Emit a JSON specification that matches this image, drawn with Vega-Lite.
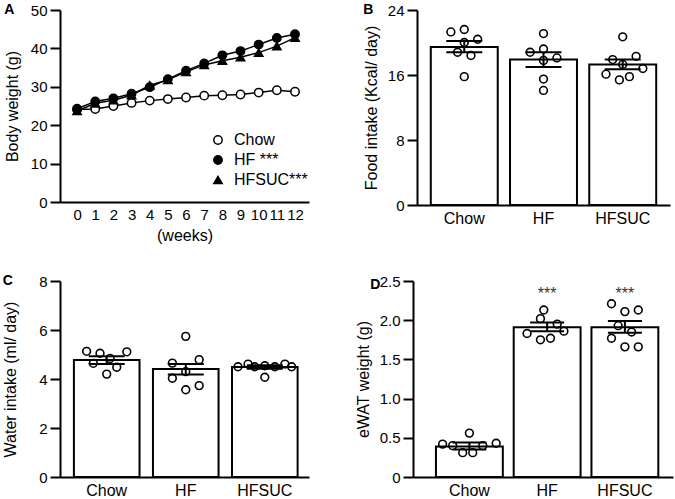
{
  "$schema": "https://vega.github.io/schema/vega-lite/v6.json",
  "padding": {"left": 2, "top": 3, "right": 2, "bottom": 0},
  "background": "white",
  "datasets": {
    "bw": [
      {"week": 0, "group": "Chow", "w": 24.1}, {"week": 1, "group": "Chow", "w": 24.2}, {"week": 2, "group": "Chow", "w": 25.0}, {"week": 3, "group": "Chow", "w": 25.8}, {"week": 4, "group": "Chow", "w": 26.4}, {"week": 5, "group": "Chow", "w": 26.8}, {"week": 6, "group": "Chow", "w": 27.2}, {"week": 7, "group": "Chow", "w": 27.7}, {"week": 8, "group": "Chow", "w": 27.8}, {"week": 9, "group": "Chow", "w": 28.0}, {"week": 10, "group": "Chow", "w": 28.5}, {"week": 11, "group": "Chow", "w": 29.1}, {"week": 12, "group": "Chow", "w": 28.7},
      {"week": 0, "group": "HF", "w": 24.3}, {"week": 1, "group": "HF", "w": 26.2}, {"week": 2, "group": "HF", "w": 27.0}, {"week": 3, "group": "HF", "w": 28.2}, {"week": 4, "group": "HF", "w": 29.9}, {"week": 5, "group": "HF", "w": 32.0}, {"week": 6, "group": "HF", "w": 34.2}, {"week": 7, "group": "HF", "w": 36.1}, {"week": 8, "group": "HF", "w": 38.2}, {"week": 9, "group": "HF", "w": 39.3}, {"week": 10, "group": "HF", "w": 41.0}, {"week": 11, "group": "HF", "w": 42.7}, {"week": 12, "group": "HF", "w": 43.7},
      {"week": 0, "group": "HFSUC", "w": 23.7}, {"week": 1, "group": "HFSUC", "w": 25.7}, {"week": 2, "group": "HFSUC", "w": 26.5}, {"week": 3, "group": "HFSUC", "w": 27.8}, {"week": 4, "group": "HFSUC", "w": 30.4}, {"week": 5, "group": "HFSUC", "w": 31.8}, {"week": 6, "group": "HFSUC", "w": 33.9}, {"week": 7, "group": "HFSUC", "w": 35.7}, {"week": 8, "group": "HFSUC", "w": 36.8}, {"week": 9, "group": "HFSUC", "w": 37.7}, {"week": 10, "group": "HFSUC", "w": 38.9}, {"week": 11, "group": "HFSUC", "w": 40.6}, {"week": 12, "group": "HFSUC", "w": 42.8}
    ],
    "b_sum": [
      {"g": "Chow", "mean": 19.45, "lo": 18.8, "hi": 20.2},
      {"g": "HF", "mean": 17.9, "lo": 17.0, "hi": 18.8},
      {"g": "HFSUC", "mean": 17.3, "lo": 16.7, "hi": 17.9}
    ],
    "b_pts": [
      {"g": "Chow", "v": 21.3, "slot": -4}, {"g": "Chow", "v": 21.6, "slot": 0}, {"g": "Chow", "v": 20.4, "slot": 4}, {"g": "Chow", "v": 20.0, "slot": 0}, {"g": "Chow", "v": 18.8, "slot": -2}, {"g": "Chow", "v": 18.4, "slot": 2}, {"g": "Chow", "v": 15.8, "slot": 0},
      {"g": "HF", "v": 21.1, "slot": 0}, {"g": "HF", "v": 18.8, "slot": -4}, {"g": "HF", "v": 19.2, "slot": 0}, {"g": "HF", "v": 18.1, "slot": 4}, {"g": "HF", "v": 17.8, "slot": 0}, {"g": "HF", "v": 15.5, "slot": 0}, {"g": "HF", "v": 14.1, "slot": 0},
      {"g": "HFSUC", "v": 20.7, "slot": 0}, {"g": "HFSUC", "v": 17.9, "slot": -3}, {"g": "HFSUC", "v": 18.3, "slot": 4}, {"g": "HFSUC", "v": 17.3, "slot": 0}, {"g": "HFSUC", "v": 16.8, "slot": 6}, {"g": "HFSUC", "v": 16.1, "slot": -5}, {"g": "HFSUC", "v": 15.4, "slot": -1}, {"g": "HFSUC", "v": 15.8, "slot": 2}
    ],
    "c_sum": [
      {"g": "Chow", "mean": 4.78, "lo": 4.61, "hi": 4.93},
      {"g": "HF", "mean": 4.41, "lo": 4.18, "hi": 4.61},
      {"g": "HFSUC", "mean": 4.49, "lo": 4.42, "hi": 4.56}
    ],
    "c_pts": [
      {"g": "Chow", "v": 5.13, "slot": -6}, {"g": "Chow", "v": 5.05, "slot": -2}, {"g": "Chow", "v": 5.11, "slot": 6}, {"g": "Chow", "v": 4.84, "slot": 1}, {"g": "Chow", "v": 4.64, "slot": -4}, {"g": "Chow", "v": 4.48, "slot": 3}, {"g": "Chow", "v": 4.2, "slot": 0},
      {"g": "HF", "v": 5.74, "slot": 0}, {"g": "HF", "v": 4.79, "slot": 4}, {"g": "HF", "v": 4.65, "slot": -4}, {"g": "HF", "v": 4.30, "slot": 0}, {"g": "HF", "v": 4.03, "slot": -4}, {"g": "HF", "v": 3.73, "slot": 4}, {"g": "HF", "v": 3.56, "slot": 0},
      {"g": "HFSUC", "v": 4.50, "slot": -8}, {"g": "HFSUC", "v": 4.61, "slot": -5}, {"g": "HFSUC", "v": 4.50, "slot": -3}, {"g": "HFSUC", "v": 4.54, "slot": 0}, {"g": "HFSUC", "v": 4.50, "slot": 3}, {"g": "HFSUC", "v": 4.61, "slot": 6}, {"g": "HFSUC", "v": 4.50, "slot": 8}, {"g": "HFSUC", "v": 4.07, "slot": 0}
    ],
    "d_sum": [
      {"g": "Chow", "mean": 0.39, "lo": 0.35, "hi": 0.44, "sig": ""},
      {"g": "HF", "mean": 1.91, "lo": 1.86, "hi": 1.97, "sig": "***"},
      {"g": "HFSUC", "mean": 1.91, "lo": 1.84, "hi": 1.99, "sig": "***"}
    ],
    "d_pts": [
      {"g": "Chow", "v": 0.42, "slot": -8}, {"g": "Chow", "v": 0.40, "slot": -5}, {"g": "Chow", "v": 0.31, "slot": -2}, {"g": "Chow", "v": 0.56, "slot": 0}, {"g": "Chow", "v": 0.31, "slot": 1}, {"g": "Chow", "v": 0.40, "slot": 4}, {"g": "Chow", "v": 0.43, "slot": 8},
      {"g": "HF", "v": 2.13, "slot": -1}, {"g": "HF", "v": 2.02, "slot": -2}, {"g": "HF", "v": 1.95, "slot": 3}, {"g": "HF", "v": 1.86, "slot": 5}, {"g": "HF", "v": 1.83, "slot": -6}, {"g": "HF", "v": 1.75, "slot": -2}, {"g": "HF", "v": 1.77, "slot": 1},
      {"g": "HFSUC", "v": 2.21, "slot": -4}, {"g": "HFSUC", "v": 2.11, "slot": 0}, {"g": "HFSUC", "v": 2.13, "slot": 4}, {"g": "HFSUC", "v": 1.93, "slot": -2}, {"g": "HFSUC", "v": 1.85, "slot": 2}, {"g": "HFSUC", "v": 1.77, "slot": -4}, {"g": "HFSUC", "v": 1.66, "slot": 0}, {"g": "HFSUC", "v": 1.66, "slot": 4}
    ]
  },
  "config": {
    "view": {"stroke": null},
    "font": "Liberation Sans",
    "axis": {"domainColor": "black", "domainWidth": 2, "tickColor": "black", "tickWidth": 2, "tickSize": 10, "labelColor": "black", "labelFontSize": 15, "titleFontSize": 16, "titleFontWeight": "normal", "titleColor": "black", "grid": false, "labelFont": "Liberation Sans", "titleFont": "Liberation Sans"},
    "axisX": {"ticks": false, "labelPadding": 5, "labelFontSize": 16},
    "axisY": {"labelPadding": 3, "titlePadding": 8},
    "title": {"fontSize": 14, "fontWeight": "bold", "anchor": "start", "frame": "bounds", "offset": -14, "color": "black", "font": "Liberation Sans"}
  },
  "spacing": 31,
  "vconcat": [
    {
      "spacing": 54,
      "hconcat": [
        {
          "width": 249, "height": 192,
          "title": {"text": "A"},
          "data": {"name": "bw"},
          "layer": [
            {
              "mark": {"type": "line", "color": "black", "strokeWidth": 1.5},
              "encoding": {
                "x": {"field": "week", "type": "quantitative", "scale": {"domain": [-0.94, 12.77], "nice": false, "zero": false}, "axis": {"values": [0,1,2,3,4,5,6,7,8,9,10,11,12], "format": "d", "title": "(weeks)", "titlePadding": 5, "labelOverlap": false, "labelFlush": false, "labelFontSize": 15}},
                "y": {"field": "w", "type": "quantitative", "scale": {"domain": [0, 50], "nice": false}, "axis": {"values": [0,10,20,30,40,50], "title": "Body weight (g)", "titlePadding": 10}},
                "detail": {"field": "group"}
              }
            },
            {
              "mark": {"type": "point", "filled": true, "stroke": "black", "strokeWidth": 1.5, "size": 70, "opacity": 1},
              "encoding": {
                "x": {"field": "week", "type": "quantitative", "scale": {"domain": [-0.94, 12.77], "nice": false, "zero": false}, "axis": {"values": [0,1,2,3,4,5,6,7,8,9,10,11,12], "format": "d", "title": "(weeks)", "titlePadding": 5, "labelOverlap": false, "labelFlush": false, "labelFontSize": 15}},
                "y": {"field": "w", "type": "quantitative", "scale": {"domain": [0, 50], "nice": false}, "axis": {"values": [0,10,20,30,40,50], "title": "Body weight (g)", "titlePadding": 10}},
                "shape": {"field": "group", "type": "nominal", "scale": {"domain": ["Chow", "HF", "HFSUC"], "range": ["circle", "circle", "triangle-up"]}, "legend": {"title": null, "orient": "none", "legendX": 150, "legendY": 122, "symbolSize": 70, "labelFontSize": 16, "labelColor": "black", "rowPadding": 4, "labelOffset": 8, "labelExpr": "datum.label == 'HF' ? 'HF ***' : datum.label == 'HFSUC' ? 'HFSUC***' : datum.label", "encode": {"symbols": {"update": {"stroke": {"value": "black"}, "strokeWidth": {"value": 1.5}, "opacity": {"value": 1}}}}}},
                "fill": {"field": "group", "type": "nominal", "scale": {"domain": ["Chow", "HF", "HFSUC"], "range": ["white", "black", "black"]}, "legend": {"title": null, "orient": "none", "legendX": 150, "legendY": 122, "symbolSize": 70, "labelFontSize": 16, "labelColor": "black", "rowPadding": 4, "labelOffset": 8, "labelExpr": "datum.label == 'HF' ? 'HF ***' : datum.label == 'HFSUC' ? 'HFSUC***' : datum.label", "encode": {"symbols": {"update": {"stroke": {"value": "black"}, "strokeWidth": {"value": 1.5}, "opacity": {"value": 1}}}}}}
              }
            }
          ]
        },
        {
          "width": 253, "height": 195,
          "title": {"text": "B"},
          "layer": [
            {
              "data": {"name": "b_sum"},
              "mark": {"type": "bar", "fill": "white", "stroke": "black", "strokeWidth": 2},
              "encoding": {
                "x": {"field": "g", "type": "nominal", "scale": {"domain": ["Chow", "HF", "HFSUC"], "paddingInner": 0.155, "paddingOuter": 0.174}, "axis": {"title": null, "labelAngle": 0}},
                "y": {"field": "mean", "type": "quantitative", "scale": {"domain": [0, 24], "nice": false}, "axis": {"values": [0, 8, 16, 24], "title": "Food intake (Kcal/ day)"}}
              }
            },
            {
              "data": {"name": "b_pts"},
              "mark": {"type": "point", "shape": "circle", "filled": false, "stroke": "black", "strokeWidth": 1.6, "size": 60, "opacity": 1, "xOffset": {"expr": "datum.slot * 3.35"}},
              "encoding": {
                "x": {"field": "g", "type": "nominal", "scale": {"domain": ["Chow", "HF", "HFSUC"], "paddingInner": 0.155, "paddingOuter": 0.174}, "axis": {"title": null, "labelAngle": 0}},
                "y": {"field": "v", "type": "quantitative", "scale": {"domain": [0, 24], "nice": false}, "axis": {"values": [0, 8, 16, 24], "title": "Food intake (Kcal/ day)"}}
              }
            },
            {
              "data": {"name": "b_sum"},
              "mark": {"type": "rule", "color": "black", "strokeWidth": 2},
              "encoding": {
                "x": {"field": "g", "type": "nominal", "scale": {"domain": ["Chow", "HF", "HFSUC"], "paddingInner": 0.155, "paddingOuter": 0.174}, "axis": {"title": null, "labelAngle": 0}},
                "y": {"field": "lo", "type": "quantitative", "scale": {"domain": [0, 24], "nice": false}, "axis": {"values": [0, 8, 16, 24], "title": "Food intake (Kcal/ day)"}},
                "y2": {"field": "hi"}
              }
            },
            {
              "data": {"name": "b_sum"},
              "mark": {"type": "tick", "orient": "horizontal", "size": 36, "thickness": 2, "color": "black", "opacity": 1},
              "encoding": {
                "x": {"field": "g", "type": "nominal", "scale": {"domain": ["Chow", "HF", "HFSUC"], "paddingInner": 0.155, "paddingOuter": 0.174}, "axis": {"title": null, "labelAngle": 0}},
                "y": {"field": "lo", "type": "quantitative", "scale": {"domain": [0, 24], "nice": false}, "axis": {"values": [0, 8, 16, 24], "title": "Food intake (Kcal/ day)"}}
              }
            },
            {
              "data": {"name": "b_sum"},
              "mark": {"type": "tick", "orient": "horizontal", "size": 36, "thickness": 2, "color": "black", "opacity": 1},
              "encoding": {
                "x": {"field": "g", "type": "nominal", "scale": {"domain": ["Chow", "HF", "HFSUC"], "paddingInner": 0.155, "paddingOuter": 0.174}, "axis": {"title": null, "labelAngle": 0}},
                "y": {"field": "hi", "type": "quantitative", "scale": {"domain": [0, 24], "nice": false}, "axis": {"values": [0, 8, 16, 24], "title": "Food intake (Kcal/ day)"}}
              }
            }
          ]
        }
      ]
    },
    {
      "spacing": 46,
      "hconcat": [
        {
          "width": 249, "height": 196,
          "title": {"text": "C"},
          "layer": [
            {
              "data": {"name": "c_sum"},
              "mark": {"type": "bar", "fill": "white", "stroke": "black", "strokeWidth": 2},
              "encoding": {
                "x": {"field": "g", "type": "nominal", "scale": {"domain": ["Chow", "HF", "HFSUC"], "paddingInner": 0.17, "paddingOuter": 0.16, "align": 0.55}, "axis": {"title": null, "labelAngle": 0}},
                "y": {"field": "mean", "type": "quantitative", "scale": {"domain": [0, 8], "nice": false}, "axis": {"values": [0, 2, 4, 6, 8], "title": "Water intake (ml/ day)", "titlePadding": 20}}
              }
            },
            {
              "data": {"name": "c_pts"},
              "mark": {"type": "point", "shape": "circle", "filled": false, "stroke": "black", "strokeWidth": 1.6, "size": 60, "opacity": 1, "xOffset": {"expr": "datum.slot * 3.35"}},
              "encoding": {
                "x": {"field": "g", "type": "nominal", "scale": {"domain": ["Chow", "HF", "HFSUC"], "paddingInner": 0.17, "paddingOuter": 0.16, "align": 0.55}, "axis": {"title": null, "labelAngle": 0}},
                "y": {"field": "v", "type": "quantitative", "scale": {"domain": [0, 8], "nice": false}, "axis": {"values": [0, 2, 4, 6, 8], "title": "Water intake (ml/ day)", "titlePadding": 20}}
              }
            },
            {
              "data": {"name": "c_sum"},
              "mark": {"type": "rule", "color": "black", "strokeWidth": 2},
              "encoding": {
                "x": {"field": "g", "type": "nominal", "scale": {"domain": ["Chow", "HF", "HFSUC"], "paddingInner": 0.17, "paddingOuter": 0.16, "align": 0.55}, "axis": {"title": null, "labelAngle": 0}},
                "y": {"field": "lo", "type": "quantitative", "scale": {"domain": [0, 8], "nice": false}, "axis": {"values": [0, 2, 4, 6, 8], "title": "Water intake (ml/ day)", "titlePadding": 20}},
                "y2": {"field": "hi"}
              }
            },
            {
              "data": {"name": "c_sum"},
              "mark": {"type": "tick", "orient": "horizontal", "size": 36, "thickness": 2, "color": "black", "opacity": 1},
              "encoding": {
                "x": {"field": "g", "type": "nominal", "scale": {"domain": ["Chow", "HF", "HFSUC"], "paddingInner": 0.17, "paddingOuter": 0.16, "align": 0.55}, "axis": {"title": null, "labelAngle": 0}},
                "y": {"field": "lo", "type": "quantitative", "scale": {"domain": [0, 8], "nice": false}, "axis": {"values": [0, 2, 4, 6, 8], "title": "Water intake (ml/ day)", "titlePadding": 20}}
              }
            },
            {
              "data": {"name": "c_sum"},
              "mark": {"type": "tick", "orient": "horizontal", "size": 36, "thickness": 2, "color": "black", "opacity": 1},
              "encoding": {
                "x": {"field": "g", "type": "nominal", "scale": {"domain": ["Chow", "HF", "HFSUC"], "paddingInner": 0.17, "paddingOuter": 0.16, "align": 0.55}, "axis": {"title": null, "labelAngle": 0}},
                "y": {"field": "hi", "type": "quantitative", "scale": {"domain": [0, 8], "nice": false}, "axis": {"values": [0, 2, 4, 6, 8], "title": "Water intake (ml/ day)", "titlePadding": 20}}
              }
            }
          ]
        },
        {
          "width": 260, "height": 196,
          "title": {"text": "D", "dx": 15, "dy": 4},
          "layer": [
            {
              "data": {"name": "d_sum"},
              "mark": {"type": "bar", "fill": "white", "stroke": "black", "strokeWidth": 2},
              "encoding": {
                "x": {"field": "g", "type": "nominal", "scale": {"domain": ["Chow", "HF", "HFSUC"], "paddingInner": 0.14, "paddingOuter": 0.242, "align": 0.61}, "axis": {"title": null, "labelAngle": 0}},
                "y": {"field": "mean", "type": "quantitative", "scale": {"domain": [0, 2.5], "nice": false}, "axis": {"values": [0, 0.5, 1, 1.5, 2, 2.5], "labelExpr": "datum.value == 0 ? '0' : format(datum.value, '.1f')", "title": "eWAT weight (g)"}}
              }
            },
            {
              "data": {"name": "d_pts"},
              "mark": {"type": "point", "shape": "circle", "filled": false, "stroke": "black", "strokeWidth": 1.6, "size": 60, "opacity": 1, "xOffset": {"expr": "datum.slot * 3.35"}},
              "encoding": {
                "x": {"field": "g", "type": "nominal", "scale": {"domain": ["Chow", "HF", "HFSUC"], "paddingInner": 0.14, "paddingOuter": 0.242, "align": 0.61}, "axis": {"title": null, "labelAngle": 0}},
                "y": {"field": "v", "type": "quantitative", "scale": {"domain": [0, 2.5], "nice": false}, "axis": {"values": [0, 0.5, 1, 1.5, 2, 2.5], "labelExpr": "datum.value == 0 ? '0' : format(datum.value, '.1f')", "title": "eWAT weight (g)"}}
              }
            },
            {
              "data": {"name": "d_sum"},
              "mark": {"type": "rule", "color": "black", "strokeWidth": 2},
              "encoding": {
                "x": {"field": "g", "type": "nominal", "scale": {"domain": ["Chow", "HF", "HFSUC"], "paddingInner": 0.14, "paddingOuter": 0.242, "align": 0.61}, "axis": {"title": null, "labelAngle": 0}},
                "y": {"field": "lo", "type": "quantitative", "scale": {"domain": [0, 2.5], "nice": false}, "axis": {"values": [0, 0.5, 1, 1.5, 2, 2.5], "labelExpr": "datum.value == 0 ? '0' : format(datum.value, '.1f')", "title": "eWAT weight (g)"}},
                "y2": {"field": "hi"}
              }
            },
            {
              "data": {"name": "d_sum"},
              "mark": {"type": "tick", "orient": "horizontal", "size": 34, "thickness": 2, "color": "black", "opacity": 1},
              "encoding": {
                "x": {"field": "g", "type": "nominal", "scale": {"domain": ["Chow", "HF", "HFSUC"], "paddingInner": 0.14, "paddingOuter": 0.242, "align": 0.61}, "axis": {"title": null, "labelAngle": 0}},
                "y": {"field": "lo", "type": "quantitative", "scale": {"domain": [0, 2.5], "nice": false}, "axis": {"values": [0, 0.5, 1, 1.5, 2, 2.5], "labelExpr": "datum.value == 0 ? '0' : format(datum.value, '.1f')", "title": "eWAT weight (g)"}}
              }
            },
            {
              "data": {"name": "d_sum"},
              "mark": {"type": "tick", "orient": "horizontal", "size": 34, "thickness": 2, "color": "black", "opacity": 1},
              "encoding": {
                "x": {"field": "g", "type": "nominal", "scale": {"domain": ["Chow", "HF", "HFSUC"], "paddingInner": 0.14, "paddingOuter": 0.242, "align": 0.61}, "axis": {"title": null, "labelAngle": 0}},
                "y": {"field": "hi", "type": "quantitative", "scale": {"domain": [0, 2.5], "nice": false}, "axis": {"values": [0, 0.5, 1, 1.5, 2, 2.5], "labelExpr": "datum.value == 0 ? '0' : format(datum.value, '.1f')", "title": "eWAT weight (g)"}}
              }
            },
            {
              "data": {"name": "d_sum"},
              "mark": {"type": "text", "fontSize": 16, "color": "#333333", "baseline": "middle", "dy": 3},
              "encoding": {
                "x": {"field": "g", "type": "nominal", "scale": {"domain": ["Chow", "HF", "HFSUC"], "paddingInner": 0.14, "paddingOuter": 0.242, "align": 0.61}, "axis": {"title": null, "labelAngle": 0}},
                "y": {"datum": 2.37, "type": "quantitative", "scale": {"domain": [0, 2.5], "nice": false}, "axis": {"values": [0, 0.5, 1, 1.5, 2, 2.5], "labelExpr": "datum.value == 0 ? '0' : format(datum.value, '.1f')", "title": "eWAT weight (g)"}},
                "text": {"field": "sig"}
              }
            }
          ]
        }
      ]
    }
  ]
}
